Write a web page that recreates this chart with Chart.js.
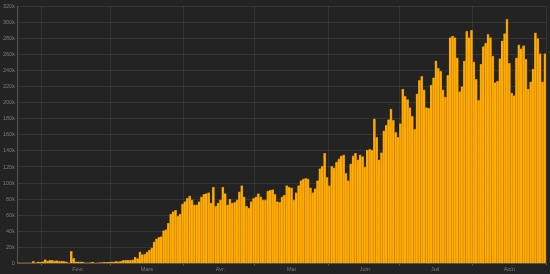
<!DOCTYPE html>
<html>
<head>
<meta charset="utf-8">
<script src="https://cdn.jsdelivr.net/npm/chart.js@4"></script>
<style>
    html, body { margin: 0; padding: 0; background: #232323; }
    canvas { display: block; }
</style>
</head>
<body>
<canvas id="chart" width="550" height="274"></canvas>
<script>
// Nouveaux cas par jour (en milliers), du 22 janv. au 31 août 2020.
const firstDay = Date.UTC(2020, 0, 22);
const dayCount = 223;

const casesJan = [0.56, 0.1, 0.29, 0.49, 0.68, 0.81, 2.65, 0.59, 2.07, 1.69];
const casesFeb = [2.11, 4.75, 3.09, 4.01, 3.74, 3.16, 3.6, 2.73, 3.03, 2.61, 2.04, 0.43, 15.13, 6.46, 2.06,
    2.1, 1.89, 1.75, 0.59, 0.63, 1.01, 1.74, 0.34, 0.57, 0.93, 0.93, 1.19, 1.37, 1.76];
const casesMar = [1.92, 1.98, 2.44, 2.2, 2.73, 3.95, 3.98, 3.76, 4.0, 4.54, 7.5, 6.0, 14.4, 11, 11.5,
    14, 16.5, 19.5, 27, 30.5, 32.5, 33.5, 41, 42, 50, 61.5, 64.5, 66, 59, 61.5, 74];
const casesApr = [77, 81, 84, 79, 73, 73, 77, 83, 86, 87, 88, 75, 95, 71, 75,
    79, 95, 87, 73, 80, 75, 76, 79, 89, 97, 83, 71, 69, 77, 81];
const casesMay = [83, 87, 83, 79, 79, 90, 91, 92, 86, 77, 76, 83, 85, 97, 95,
    94, 79, 88, 97, 103, 105, 106, 105, 94, 88, 93, 103, 118, 121, 137, 107];
const casesJun = [97, 121, 119, 126, 130, 134, 135, 112, 103, 124, 134, 137, 129, 135, 133,
    120, 141, 142, 141, 180, 157, 129, 138, 165, 172, 179, 192, 178, 163, 157];
const casesJul = [174, 217, 208, 204, 194, 183, 167, 211, 228, 233, 216, 194, 193, 222, 231,
    252, 243, 239, 216, 207, 234, 281, 283, 281, 256, 214, 220, 252, 289, 281, 290];
const casesAug = [251, 229, 203, 248, 270, 274, 285, 281, 258, 225, 227, 255, 277, 286, 304,
    249, 212, 209, 256, 272, 267, 271, 254, 217, 226, 242, 287, 280, 261, 226, 261];

const cases = [].concat(casesJan, casesFeb, casesMar, casesApr, casesMay, casesJun, casesJul, casesAug);

const monthNames = ['Janv.', 'Févr.', 'Mars', 'Avr.', 'Mai', 'Juin', 'Juil.', 'Août'];

const yMax = 320;
const yStep = 20;

// une date par barre
const days = [];
for (let i = 0; i < dayCount; i++) {
    days.push(new Date(firstDay + i * 86400000));
}
const labels = days.map(d => d.toISOString().slice(0, 10));

const textColor = '#7a7a7a';
const gridColor = 'rgba(255, 255, 255, 0.08)';
const axisColor = '#555555';
const font = { family: 'Liberation Sans', size: 5.5 };

// Les lignes verticales ne sont tracées qu'au début de chaque mois.
function isMonthStart(ctx) {
    const d = days[ctx.index];
    return !d || d.getUTCDate() === 1;
}

const config = {
    type: 'bar',
    data: {
        labels: labels,
        datasets: [{
            data: cases,
            backgroundColor: '#ffab00',
            borderColor: '#c98600',
            borderWidth: { top: 0.8, right: 0.6, left: 0, bottom: 0 },
            borderSkipped: false,
            barPercentage: 1,
            categoryPercentage: 1
        }]
    },
    options: {
        responsive: false,
        animation: false,
        devicePixelRatio: 1,
        layout: { padding: { top: 2, right: 4, left: 0, bottom: 0 } },
        plugins: {
            legend: { display: false },
            tooltip: { enabled: false }
        },
        scales: {
            x: {
                grid: {
                    offset: true,
                    color: ctx => isMonthStart(ctx) ? gridColor : 'transparent',
                    tickColor: ctx => isMonthStart(ctx) ? axisColor : 'transparent',
                    borderDash: [1, 2],
                    tickBorderDash: [],
                    tickLength: 2
                },
                border: { color: axisColor },
                ticks: {
                    autoSkip: false,
                    maxRotation: 0,
                    padding: 1,
                    color: textColor,
                    font: font,
                    callback: function(value, index) {
                        const d = days[index];
                        return d.getUTCDate() === 16 ? monthNames[d.getUTCMonth()] : '';
                    }
                }
            },
            y: {
                min: 0,
                max: yMax,
                grid: {
                    color: gridColor,
                    borderDash: [1, 2],
                    drawTicks: false
                },
                border: { color: axisColor },
                ticks: {
                    stepSize: yStep,
                    padding: 3,
                    color: textColor,
                    font: font,
                    callback: v => v === 0 ? '0' : v + 'k'
                }
            }
        }
    }
};

new Chart(document.getElementById('chart'), config);
</script>
</body>
</html>
